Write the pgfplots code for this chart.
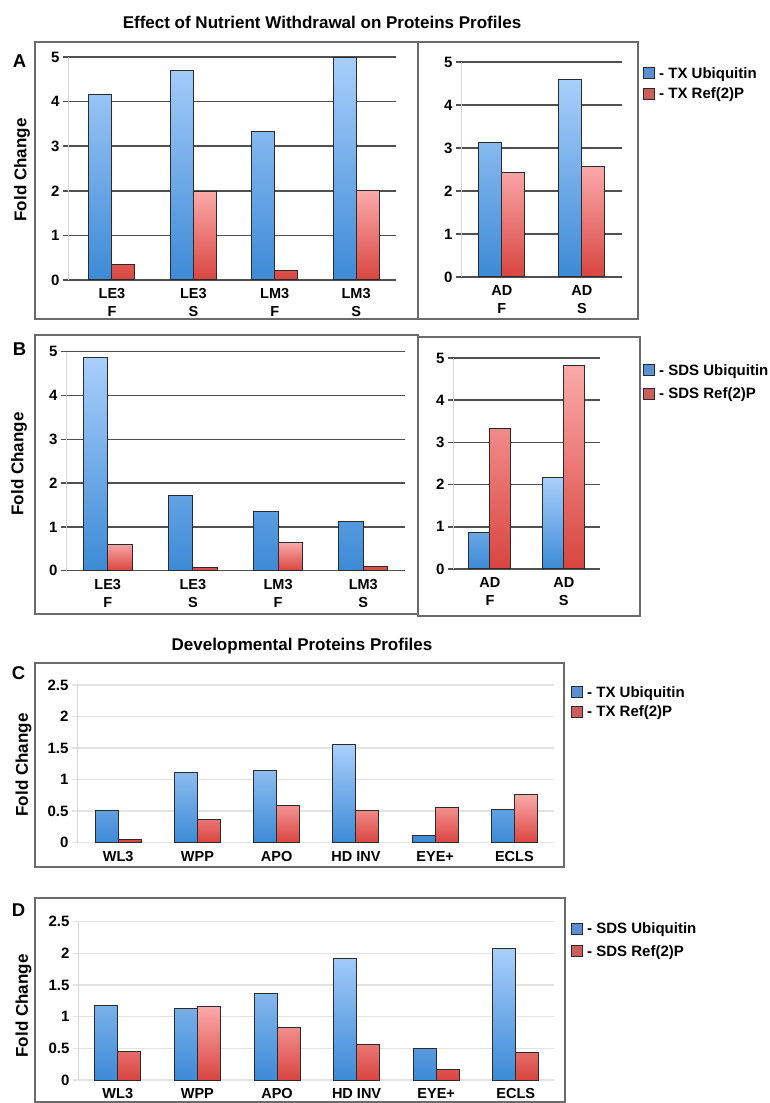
\documentclass[border=0pt]{standalone}
\usepackage{pgfplots}
\pgfplotsset{compat=1.18}
\usepackage{fontspec}
\setmainfont{Liberation Sans}

\definecolor{bluetop}{HTML}{A8CFFB}
\definecolor{bluebot}{HTML}{3D8AD6}
\definecolor{redtop}{HTML}{FBAAAA}
\definecolor{redbot}{HTML}{D9453F}
\definecolor{barline}{HTML}{2B2B2B}
\definecolor{legblue}{HTML}{5A8FD2}
\definecolor{legred}{HTML}{CC5F5A}
\definecolor{gridd}{HTML}{505050}
\definecolor{gridl}{HTML}{E3E3E3}
\definecolor{axisc}{HTML}{D5D5D5}
\definecolor{boxc}{HTML}{6B6B6B}

\pgfplotsset{
  panel/.style={
    scale only axis, ybar, bar width=23pt,
    ymin=0, enlargelimits=false, clip=false,
    axis lines*=left, axis line style={-},
    x axis line style={draw=none},
    y axis line style={draw=axisc, line width=1pt},
    xtick=data, xtick style={draw=none},
    tick align=outside, major tick length=5pt,
    ymajorgrids,
    yticklabel style={font=\bfseries\fontsize{15}{17}\selectfont},
    xticklabel style={align=center, font=\bfseries\fontsize{14.5}{18}\selectfont},
    legend cell align=left,
  },
  darkgrid/.style={major grid style={draw=gridd, line width=1.5pt},
    ytick style={draw=gridd, line width=1.5pt},
    ytick={0,1,2,3,4,5}, yticklabels={0,1,2,3,4,5}, ymax=5},
  lightgrid/.style={major grid style={draw=gridl, line width=1.5pt},
    ytick style={draw=gridl, line width=1.5pt},
    ytick={0,0.5,1,1.5,2,2.5}, yticklabels={0,0.5,1,1.5,2,2.5}, ymax=2.5},
  ubar/.style={draw=barline, line width=1pt, top color=bluetop, bottom color=bluebot, bar shift=-#1,
    legend image code/.code={\draw[top color=legblue, bottom color=legblue, draw=barline, line width=1pt] (0pt,-5.5pt) rectangle (11pt,5.5pt); \path (14pt,0pt);}},
  rbar/.style={draw=barline, line width=1pt, top color=redtop, bottom color=redbot, bar shift=#1,
    legend image code/.code={\draw[top color=legred, bottom color=legred, draw=barline, line width=1pt] (0pt,-5.5pt) rectangle (11pt,5.5pt); \path (14pt,0pt);}},
  leg/.style={legend style={at={(rel axis cs:1,1)}, anchor=north west, draw=none, fill=none,
    inner sep=0pt, nodes={inner sep=1pt}, font=\bfseries\fontsize{15}{18}\selectfont}},
}

\begin{document}
\begin{tikzpicture}[x=1pt,y=1pt]
\useasboundingbox (0,0) rectangle (769,1103);

% frames
\draw[boxc, line width=1.5pt] (35,1061) rectangle (638,784);
\draw[boxc, line width=1.5pt] (418,1061) -- (418,784);
\draw[boxc, line width=1.5pt] (35,768) rectangle (418,489);
\draw[boxc, line width=1.5pt] (418,766) rectangle (640,487);
\draw[boxc, line width=1.5pt] (35,440) rectangle (564,236);
\draw[boxc, line width=1.5pt] (35,205) rectangle (565,1);

% titles and labels
\node[font=\bfseries\fontsize{17}{20}\selectfont] at (322,1081) {Effect of Nutrient Withdrawal on Proteins Profiles};
\node[font=\bfseries\fontsize{17}{20}\selectfont] at (302,457) {Developmental Proteins Profiles};
\node[font=\bfseries\fontsize{18.5}{20}\selectfont] at (19.5,1041.5) {A};
\node[font=\bfseries\fontsize{18.5}{20}\selectfont] at (19.5,754.2) {B};
\node[font=\bfseries\fontsize{18.5}{20}\selectfont] at (18.5,429.7) {C};
\node[font=\bfseries\fontsize{18.5}{20}\selectfont] at (18.5,192.5) {D};
\node[rotate=90, font=\bfseries\fontsize{17}{20}\selectfont] at (22,933) {Fold Change};
\node[rotate=90, font=\bfseries\fontsize{17}{20}\selectfont] at (19,639) {Fold Change};
\node[rotate=90, font=\bfseries\fontsize{17}{20}\selectfont] at (23.5,338) {Fold Change};
\node[rotate=90, font=\bfseries\fontsize{17}{20}\selectfont] at (23.5,97) {Fold Change};

% Panel A left
\begin{axis}[panel, darkgrid, at={(68pt,823pt)}, anchor=south west,
  width=328pt, height=223pt, xmin=-0.54, xmax=3.49, bar width=23pt,
  xticklabels={{LE3\\F},{LE3\\S},{LM3\\F},{LM3\\S}}]
\addplot[ubar=11.5pt] coordinates {(0,4.15) (1,4.69) (2,3.32) (3,4.98)};
\addplot[rbar=11.5pt] coordinates {(0,0.34) (1,1.98) (2,0.22) (3,2.00)};
\end{axis}

% Panel A right
\begin{axis}[panel, darkgrid, leg, at={(461pt,826pt)}, anchor=south west,
  width=161pt, height=215pt, xmin=-0.51, xmax=1.5, bar width=23pt,
  xticklabels={{AD\\F},{AD\\S}},
  legend style={xshift=21pt, yshift=-4pt, row sep=6pt}]
\addplot[ubar=11.5pt] coordinates {(0,3.12) (1,4.60)};
\addplot[rbar=11.5pt] coordinates {(0,2.42) (1,2.58)};
\legend{- TX Ubiquitin, - TX Ref(2)P}
\end{axis}

% Panel B left
\begin{axis}[panel, darkgrid, at={(66pt,532.3pt)}, anchor=south west,
  width=339pt, height=219pt, xmin=-0.49, xmax=3.49, bar width=24.5pt,
  xticklabels={{LE3\\F},{LE3\\S},{LM3\\F},{LM3\\S}}]
\addplot[ubar=12.25pt] coordinates {(0,4.87) (1,1.71) (2,1.35) (3,1.12)};
\addplot[rbar=12.25pt] coordinates {(0,0.60) (1,0.08) (2,0.64) (3,0.09)};
\end{axis}

% Panel B right
\begin{axis}[panel, darkgrid, leg, at={(453pt,534pt)}, anchor=south west,
  width=147pt, height=211pt, xmin=-0.5, xmax=1.49, bar width=21pt,
  xticklabels={{AD\\F},{AD\\S}},
  legend style={xshift=43pt, yshift=-5pt, row sep=9pt}]
\addplot[ubar=10.5pt] coordinates {(0,0.87) (1,2.16)};
\addplot[rbar=10.5pt] coordinates {(0,3.33) (1,4.83)};
\legend{- SDS Ubiquitin, - SDS Ref(2)P}
\end{axis}

% Panel C
\begin{axis}[panel, lightgrid, leg, at={(77pt,260.3pt)}, anchor=south west,
  width=477pt, height=157.7pt, xmin=-0.52, xmax=5.5, bar width=23pt,
  xticklabels={WL3,WPP,APO,HD INV,EYE+,ECLS},
  legend style={xshift=17pt, yshift=0pt, row sep=5pt}]
\addplot[ubar=11.5pt] coordinates {(0,0.51) (1,1.12) (2,1.14) (3,1.55) (4,0.12) (5,0.53)};
\addplot[rbar=11.5pt] coordinates {(0,0.05) (1,0.36) (2,0.59) (3,0.51) (4,0.56) (5,0.77)};
\legend{- TX Ubiquitin, - TX Ref(2)P}
\end{axis}

% Panel D
\begin{axis}[panel, lightgrid, leg, at={(78pt,23pt)}, anchor=south west,
  width=476pt, height=158.3pt, xmin=-0.5, xmax=5.48, bar width=23pt,
  xticklabels={WL3,WPP,APO,HD INV,EYE+,ECLS},
  legend style={xshift=17pt, yshift=0pt, row sep=8pt}]
\addplot[ubar=11.5pt] coordinates {(0,1.17) (1,1.13) (2,1.36) (3,1.92) (4,0.49) (5,2.08)};
\addplot[rbar=11.5pt] coordinates {(0,0.45) (1,1.16) (2,0.83) (3,0.56) (4,0.17) (5,0.43)};
\legend{- SDS Ubiquitin, - SDS Ref(2)P}
\end{axis}
\end{tikzpicture}
\end{document}
